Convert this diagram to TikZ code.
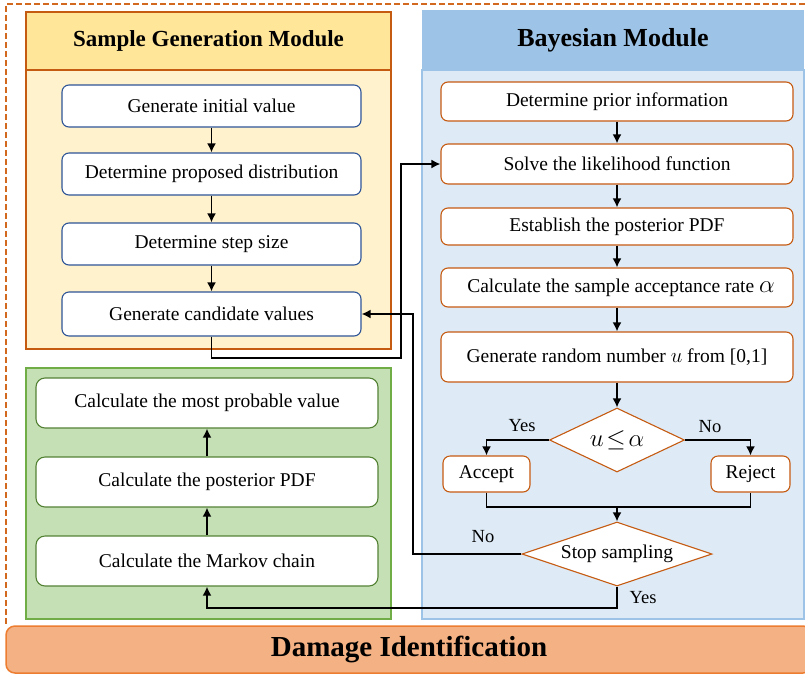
\documentclass[tikz,border=0pt]{standalone}
\usepackage{fontspec}
\setmainfont{Liberation Serif}
\usetikzlibrary{shapes.geometric,arrows.meta,positioning,calc}

\definecolor{frameorange}{HTML}{C55A11}
\definecolor{dashorange}{HTML}{D2691E}
\definecolor{sghead}{HTML}{FFE699}
\definecolor{sgbody}{HTML}{FFF2CC}
\definecolor{sgblue}{HTML}{2F5597}
\definecolor{mcfill}{HTML}{C5E0B4}
\definecolor{mcline}{HTML}{70AD47}
\definecolor{mcbox}{HTML}{548235}
\definecolor{bmhead}{HTML}{9DC3E6}
\definecolor{bmbody}{HTML}{DEEBF7}
\definecolor{bmline}{HTML}{9DC3E6}
\definecolor{dmgfill}{HTML}{F4B183}
\definecolor{dmgline}{HTML}{ED7D31}

\begin{document}
\begin{tikzpicture}[
    x=1pt, y=-1pt,
    node distance=68pt,
    sgbox/.style={rectangle, draw=sgblue, fill=white, line width=1.1pt, minimum width=299pt, minimum height=42pt, text centered, rounded corners=7pt, font=\fontsize{19.5}{22}\selectfont},
    mcbox/.style={rectangle, draw=mcbox, fill=white, line width=1.1pt, minimum width=342pt, minimum height=50pt, text centered, rounded corners=9pt, font=\fontsize{19.5}{22}\selectfont},
    bmbox/.style={rectangle, draw=frameorange, fill=white, line width=1.1pt, minimum width=352pt, minimum height=39pt, text centered, rounded corners=7pt, font=\fontsize{19.5}{22}\selectfont},
    decision/.style={diamond, draw=frameorange, fill=white, line width=1.1pt, aspect=3, inner sep=0pt, font=\fontsize{19.5}{22}\selectfont},
    title/.style={rectangle, inner sep=0pt, font=\bfseries\fontsize{23}{26}\selectfont},
    arrow/.style={-{Latex[length=9pt,width=9pt]}, line width=1.9pt, color=black},
    link/.style={line width=1.9pt, color=black},
    label/.style={font=\fontsize{18.5}{20}\selectfont}
]
\useasboundingbox (0,0) rectangle (805,675);

% Outer frame
\draw[dashorange, line width=1.8pt, dash pattern=on 6pt off 3pt] (805,4) -- (6,4) -- (6,626);

% Module backgrounds
\draw[frameorange, line width=1.5pt, fill=sgbody] (26,12) rectangle (391,349);
\node[title, fill=sghead, draw=frameorange, line width=1.5pt, minimum width=365pt, minimum height=58pt] (sgtitle) at (208.5,41) {Sample Generation Module};
\draw[mcline, line width=1.1pt, fill=mcfill] (26,368) rectangle (391,619);
\draw[bmline, line width=1.1pt, fill=bmbody] (422,70) rectangle (804,619);
\node[title, fill=bmhead, minimum width=382pt, minimum height=60pt, font=\bfseries\fontsize{26}{30}\selectfont] (bmtitle) at (613,40) {Bayesian Module};

% Damage identification bar
\node[rectangle, rounded corners=9pt, draw=dmgline, line width=1.5pt, fill=dmgfill, minimum width=806pt, minimum height=47pt, font=\bfseries\fontsize{29}{32}\selectfont] (damage) at (409,649.5) {Damage Identification};

% Sample generation steps
\node[sgbox] (init) at (211.5,106) {Generate initial value};
\node[sgbox, below of=init] (proposal) {Determine proposed distribution};
\node[sgbox, below of=proposal, node distance=70pt] (stepsize) {Determine step size};
\node[sgbox, below of=stepsize, node distance=70pt, minimum height=44pt] (candidate) {Generate candidate values};

% Markov chain steps
\node[mcbox] (markov) at (207,561) {Calculate the Markov chain};
\node[mcbox, above of=markov, node distance=79pt] (posterior) {Calculate the posterior PDF};
\node[mcbox, above of=posterior, node distance=79pt] (probable) {Calculate the most probable value};

% Bayesian steps
\node[bmbox] (prior) at (617,101.5) {Determine prior information};
\node[bmbox, below of=prior, node distance=62.5pt, minimum height=40pt] (likelihood) {Solve the likelihood function};
\node[bmbox, below of=likelihood, node distance=62.5pt, minimum height=37pt] (establish) {Establish the posterior PDF};
\node[bmbox, below of=establish, node distance=61pt] (acceptrate) {\hspace*{8pt}Calculate the sample acceptance rate {\fontsize{24}{24}\selectfont$\alpha$}};
\node[bmbox, below of=acceptrate, node distance=69.5pt, minimum height=50pt] (random) {Generate random number $u$ from [0,1]};
\node[decision, below of=random, node distance=83pt, minimum width=135pt, minimum height=64pt, aspect=2, font=\fontsize{26}{28}\selectfont] (check) {$u\!\leq\!\alpha$};
\node[bmbox, minimum width=87pt, minimum height=36pt] (accept) at (486.5,474) {Accept};
\node[bmbox, minimum width=79pt, minimum height=36pt] (reject) at (750.5,474) {Reject};
\node[decision, minimum width=190pt, minimum height=64pt] (stop) at (617,554) {Stop sampling};

% Bend points
\coordinate (merge) at (617,507);
\coordinate (toBayes) at (401,358);
\coordinate (noBack) at (413,554);
\coordinate (yesBack) at (617,608);

% Arrows in the modules
\draw[arrow] (init) -- (proposal);
\draw[arrow] (proposal) -- (stepsize);
\draw[arrow] (stepsize) -- (candidate);
\draw[arrow] (markov) -- (posterior);
\draw[arrow] (posterior) -- (probable);
\draw[arrow] (prior) -- (likelihood);
\draw[arrow] (likelihood) -- (establish);
\draw[arrow] (establish) -- (acceptrate);
\draw[arrow] (acceptrate) -- (random);
\draw[arrow] (random) -- (check);
\draw[arrow] (check.west) -| (accept.north);
\draw[arrow] (check.east) -| (reject.north);
\draw[link] (accept.south) |- (merge) -| (reject.south);
\draw[arrow] (merge) -- (stop.north);

% Arrows between the modules
\draw[arrow] (candidate.south) |- (toBayes) |- (likelihood.west);
\draw[arrow] (stop.west) -- (noBack) |- (candidate.east);
\draw[arrow] (stop.south) -- (yesBack) -| (markov.south);

% Labels
\node[label] (yes1) at (522,426) {Yes};
\node[label] (no1) at (710,427) {No};
\node[label] (no2) at (483,537) {No};
\node[label] (yes2) at (643,598) {Yes};

\end{tikzpicture}
\end{document}
